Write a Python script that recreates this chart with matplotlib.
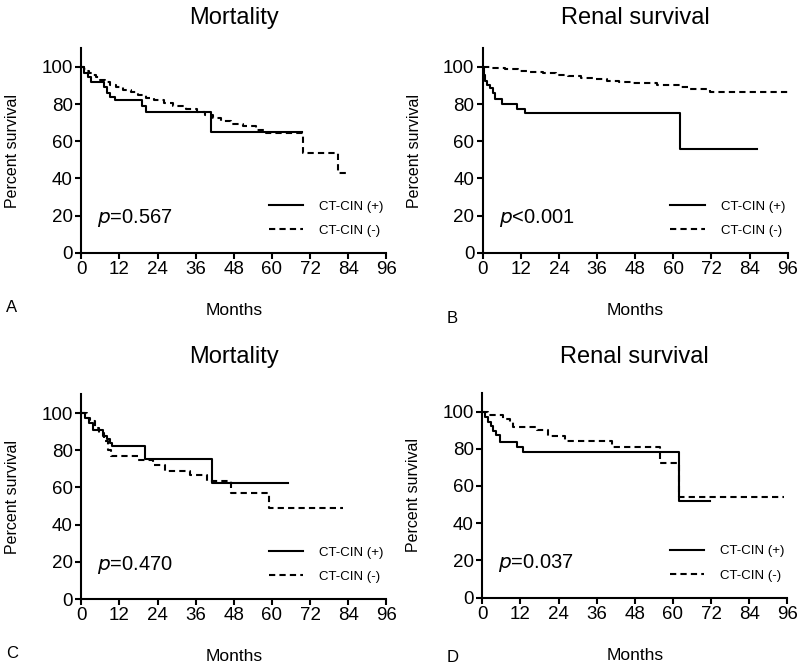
import matplotlib
matplotlib.use("Agg")
import matplotlib.pyplot as plt

plt.rcParams['font.family'] = ['Liberation Sans', 'DejaVu Sans']

# Kaplan-Meier step data: event times (months), survival (%), last follow-up
# A: Mortality (cohort 1)
a_pos_t = [0, 1, 2, 3, 7, 8, 9, 10.5, 19, 20.3, 40.7]
a_pos_s = [100, 97, 94.5, 92, 89, 86, 84, 82.4, 79, 76, 65.2]
a_pos_end = 69.6
a_neg_t = [0, 0.8, 1.6, 2.5, 3.5, 4.5, 6, 7.5, 9, 11, 13, 15.5, 18, 20.5, 23, 26, 29, 33,
           36.5, 39, 41.5, 44, 47, 51, 55, 58, 69.8, 80.7]
a_neg_s = [100, 99, 98, 97, 95.8, 94.6, 93.2, 91.8, 90.4, 89, 87.6, 86.3, 85, 83.5, 82, 80.5,
           79, 77.5, 76, 74, 72.3, 71, 69.5, 68, 66.2, 64.2, 53.8, 42.9]
a_neg_end = 84.6

# B: Renal survival (cohort 1)
b_pos_t = [0, 0.3, 0.8, 1.5, 2.3, 3.2, 4.0, 6.0, 10.7, 13.3, 62.0]
b_pos_s = [100, 95.5, 92.5, 90.5, 88.5, 86, 83, 80, 77.3, 75, 56]
b_pos_end = 86.2
b_neg_t = [0, 3, 7, 11, 15, 19, 23, 27, 31, 35, 39, 43, 47, 55, 62, 65, 71.5]
b_neg_s = [100, 99.5, 98.8, 98, 97.3, 96.5, 95.8, 95, 94.2, 93.4, 92.7, 92, 91.2, 90.4, 89.4,
           88.2, 86.4]
b_neg_end = 96

# C: Mortality (cohort 2)
c_pos_t = [0, 1.2, 2.5, 3.8, 6.8, 8, 9, 9.8, 20, 41.2]
c_pos_s = [100, 97.5, 94.6, 91, 87.5, 86, 84, 82.3, 75.3, 62.5]
c_pos_end = 65.2
c_neg_t = [0, 1.7, 2.8, 4.3, 5.5, 7, 8.5, 9.5, 18, 22.7, 26.3, 34.2, 39.5, 47.1, 59.2]
c_neg_s = [100, 97.3, 95.5, 92, 89, 85, 80.3, 76.7, 74.9, 72.2, 69, 66.8, 63.3, 57, 48.9]
c_neg_end = 82.3

# D: Renal survival (cohort 2)
d_pos_t = [0, 0.8, 1.9, 2.7, 3.5, 4.2, 5.6, 10.8, 12.7, 61.8]
d_pos_s = [100, 97, 94.5, 92, 89.7, 87.2, 83.5, 81, 78.1, 52]
d_pos_end = 71.8
d_neg_t = [0, 1.9, 6.6, 8.7, 9.8, 17.1, 20.8, 26.1, 40.8, 56, 61.8]
d_neg_s = [100, 98, 96.2, 94.4, 91.7, 89.9, 86.6, 84.4, 80.8, 72.2, 54.2]
d_neg_end = 95

titles = ["Mortality", "Renal survival", "Mortality", "Renal survival"]
pvals = ["=0.567", "<0.001", "=0.470", "=0.037"]
letters = ["A", "B", "C", "D"]
x_ticks = [0, 12, 24, 36, 48, 60, 72, 84, 96]
y_ticks = [0, 20, 40, 60, 80, 100]

panels = [
    (a_pos_t, a_pos_s, a_pos_end, a_neg_t, a_neg_s, a_neg_end),
    (b_pos_t, b_pos_s, b_pos_end, b_neg_t, b_neg_s, b_neg_end),
    (c_pos_t, c_pos_s, c_pos_end, c_neg_t, c_neg_s, c_neg_end),
    (d_pos_t, d_pos_s, d_pos_end, d_neg_t, d_neg_s, d_neg_end),
]

W, H = 800, 663
fig = plt.figure(figsize=(W / 100, H / 100), dpi=100)

# axes boxes in pixels: left, y of zero line, width, height (0..110)
boxes = [(81.3, 252.7, 305, 204.3), (482.7, 252.7, 305, 204.3),
         (81.3, 599.0, 305, 204.6), (482.3, 597.5, 305, 204.6)]
letter_pos = [(6, 307), (447, 318), (6, 653), (447, 657)]

for i, (px, py, pw, ph) in enumerate(boxes):
    ax = fig.add_axes([px / W, 1 - py / H, pw / W, ph / H])
    pt, ps, pe, nt, ns, ne = panels[i]
    ax.step(pt + [pe], ps + [ps[-1]], where='post', color='black', lw=1.5,
            label='CT-CIN (+)', clip_on=False)
    ax.step(nt + [ne], ns + [ns[-1]], where='post', color='black', lw=1.5,
            dashes=(3, 2), label='CT-CIN (-)', clip_on=False)

    ax.set_xlim(0, 96)
    ax.set_ylim(0, 110)
    ax.set_xticks(x_ticks)
    ax.set_yticks(y_ticks)
    for s in ['top', 'right']:
        ax.spines[s].set_visible(False)
    for s in ['left', 'bottom']:
        ax.spines[s].set_linewidth(1.5)
    ax.tick_params(direction='out', length=4, width=1.5, labelsize=13.5, pad=2)

    ax.set_xlabel("Months", fontsize=12.5)
    ax.xaxis.set_label_coords(0.5, -0.245)
    ax.set_ylabel("Percent survival", fontsize=11.5)
    ax.yaxis.set_label_coords(-0.2, 0.5)

    ax.text(5, 18.5, r"$p$" + pvals[i], fontsize=14.5, ha='left', va='center')
    ax.legend(loc='lower right', bbox_to_anchor=(1.03, 0.02), frameon=False, fontsize=9.5,
              handlelength=2.6, handletextpad=1.2, labelspacing=0.9)

    fig.text((px + pw / 2) / W, 1 - (18 if i < 2 else 357) / H, titles[i],
             fontsize=17, ha='center', va='center')
    lx, ly = letter_pos[i]
    fig.text(lx / W, 1 - ly / H, letters[i], fontsize=12, ha='left', va='center')

fig.savefig("out.png", dpi=100)
